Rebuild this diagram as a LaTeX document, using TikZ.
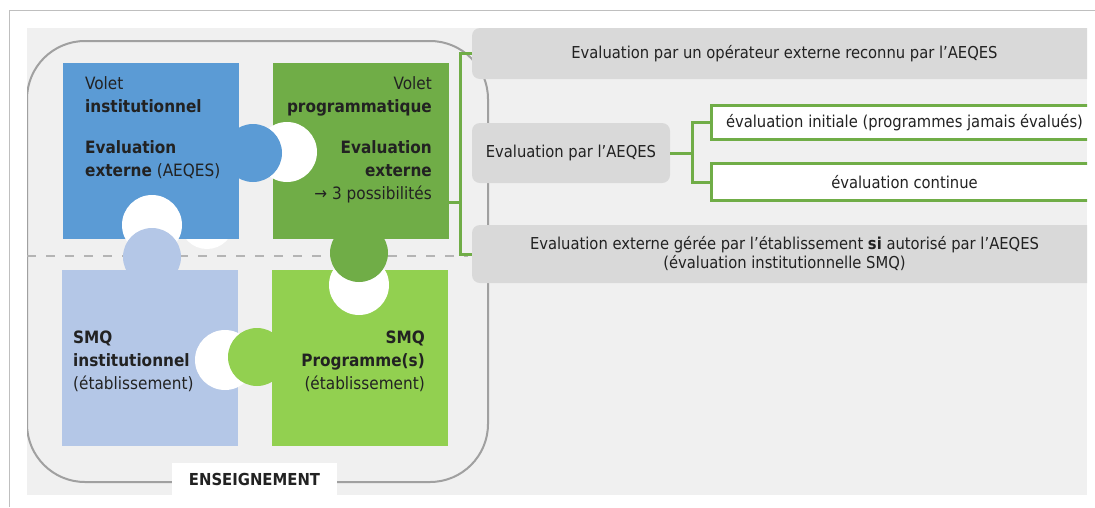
\documentclass[tikz,border=0pt]{standalone}
\usepackage{fontspec}
\setmainfont{DejaVu Sans Condensed}
\usetikzlibrary{positioning}

\definecolor{voletblue}{HTML}{5B9BD5}
\definecolor{voletgreen}{HTML}{70AD47}
\definecolor{smqblue}{HTML}{B4C7E7}
\definecolor{smqgreen}{HTML}{92D050}
\definecolor{bgcol}{HTML}{F0F0F0}
\definecolor{boxgray}{HTML}{D9D9D9}
\definecolor{framegray}{HTML}{A0A0A0}
\definecolor{dashgray}{HTML}{B4B4B4}
\definecolor{linkgreen}{HTML}{70AD47}
\definecolor{textdark}{HTML}{222222}

\begin{document}
\begin{tikzpicture}[x=1pt,y=-1pt,
  piece/.style={rectangle,minimum size=176pt,inner sep=0pt,anchor=north west},
  knob/.style={circle,minimum size=58pt,inner sep=0pt},
  hole/.style={circle,fill=white,minimum size=60pt,inner sep=0pt},
  txt/.style={inner sep=0pt,text=textdark,font=\fontsize{17}{23}\selectfont},
  graybox/.style={fill=boxgray,rounded corners=8pt,inner sep=0pt,text=textdark,
    align=center,font=\fontsize{16.4}{19}\selectfont},
  whitebox/.style={fill=white,inner sep=0pt,minimum width=385pt,text=textdark,
    font=\fontsize{16.4}{19}\selectfont},
  link/.style={draw=linkgreen,line width=3pt},
]
\useasboundingbox (0,0) rectangle (1095,507);
\draw[gray!50,line width=1pt] (9,507) -- (9,10) -- (1095,10);
\fill[bgcol] (27,28) rectangle (1087,495);

\begin{scope}
\clip (27,28) rectangle (1087,495);
\draw[framegray,line width=2pt,rounded corners=58pt] (27,41) rectangle (488,482);
\draw[dashgray,line width=2.5pt,dash pattern=on 9pt off 10pt] (27,256) -- (468,256);
\node[hole,minimum size=54pt] (h0) at (207,222) {};

% puzzle pieces
\node[piece,fill=voletblue] (vi) at (63,63) {};
\node[piece,fill=voletgreen] (vp) at (273,63) {};
\node[piece,fill=smqblue] (si) at (62,270) {};
\node[piece,fill=smqgreen] (sp) at (272,270) {};

\node[hole] (h1) at (287,152) {};
\node[hole] (h2) at (152,225) {};
\node[hole] (h3) at (359,285) {};
\node[hole] (h4) at (225,360) {};

\node[knob,fill=voletblue] (k1) at (253,153) {};
\node[knob,fill=smqblue] (k2) at (152,257) {};
\node[knob,fill=voletgreen] (k3) at (359,253) {};
\node[knob,fill=smqgreen] (k4) at (257,357) {};

\node[txt,anchor=north west,align=left] (t1) at (85,76)
  {Volet\\\textbf{institutionnel}\\[18pt]\textbf{Evaluation}\\\textbf{externe} (AEQES)};
\node[txt,anchor=north east,align=right] (t2) at (432,76)
  {Volet\\\textbf{programmatique}\\[18pt]\textbf{Evaluation}\\\textbf{externe}\\→ 3 possibilités};
\node[txt,anchor=north west,align=left] (t3) at (73,331)
  {\textbf{SMQ}\\\textbf{institutionnel}\\(établissement)};
\node[txt,anchor=north east,align=right] (t4) at (425,331)
  {\textbf{SMQ}\\\textbf{Programme(s)}\\(établissement)};

% the three possibilities
\node[graybox,minimum width=625pt,minimum height=51pt] (o1) at (784.5,53.5)
  {Evaluation par un opérateur externe reconnu par l'AEQES};
\node[graybox,minimum width=198pt,minimum height=60pt] (o2) at (571,153)
  {Evaluation par l'AEQES};
\node[graybox,minimum width=625pt,minimum height=58pt] (o3) at (784.5,254)
  {Evaluation externe gérée par l'établissement \textbf{si} autorisé par l'AEQES\\(évaluation institutionnelle SMQ)};

\node[whitebox,minimum height=33pt] (e1) at (904.5,122.5)
  {évaluation initiale (programmes jamais évalués)};
\node[whitebox,minimum height=36pt] (e2) at (904.5,182)
  {évaluation continue};
\draw[link] (e1.north east) -- (e1.north west) -- (e1.south west) -- (e1.south east);
\draw[link] (e2.north east) -- (e2.north west) -- (e2.south west) -- (e2.south east);

\coordinate (br) at (460,202);
\draw[link] (vp.east |- br) -- (br);
\draw[link] (o1.west) -| (br) |- (o3.west);

\coordinate (fk) at (692,153);
\draw[link] (o2.east) -- (fk);
\draw[link] (e1.west) -| (fk) |- (e2.west);

\node[fill=white,minimum width=165pt,minimum height=32pt,inner sep=0pt,text=textdark,
  font=\bfseries\fontsize{16.5}{18}\selectfont] (ens) at (254.5,479) {ENSEIGNEMENT};
\end{scope}
\end{tikzpicture}
\end{document}
